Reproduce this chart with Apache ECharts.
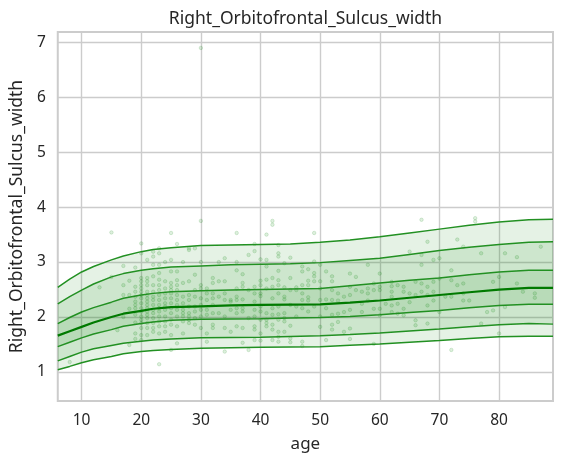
<!DOCTYPE html>
<html><head><meta charset="utf-8">
<script src="https://cdn.jsdelivr.net/npm/echarts@6/dist/echarts.min.js"></script>
<style>html,body{margin:0;padding:0;background:#fff}#c{width:562px;height:463px}</style>
</head><body><div id="c"></div>
<script>
const chartTitle = 'Right_Orbitofrontal_Sulcus_width';
const xName = 'age';
const yName = 'Right_Orbitofrontal_Sulcus_width';
const curveAges = [6,8,10,12,15,17,20,22,25,30,35,40,45,50,55,60,65,70,75,80,85,89.05];
const p7 = [2.54,2.69,2.82,2.92,3.04,3.11,3.19,3.23,3.26,3.30,3.31,3.32,3.33,3.36,3.40,3.46,3.53,3.60,3.67,3.73,3.77,3.78];
const p6 = [2.24,2.37,2.49,2.60,2.73,2.79,2.85,2.88,2.91,2.93,2.95,2.96,2.97,2.99,3.03,3.07,3.14,3.21,3.27,3.32,3.36,3.37];
const p5 = [1.88,1.99,2.09,2.17,2.27,2.34,2.40,2.43,2.46,2.48,2.49,2.50,2.51,2.52,2.57,2.62,2.67,2.71,2.77,2.82,2.85,2.85];
const p4 = [1.66,1.74,1.82,1.90,2.00,2.06,2.11,2.15,2.18,2.195,2.21,2.22,2.225,2.23,2.26,2.30,2.35,2.40,2.45,2.50,2.53,2.53];
const p3 = [1.46,1.54,1.62,1.69,1.77,1.83,1.88,1.91,1.94,1.96,1.965,1.97,1.98,1.99,2.01,2.04,2.08,2.12,2.17,2.21,2.23,2.23];
const p2 = [1.20,1.28,1.36,1.42,1.48,1.52,1.56,1.58,1.60,1.62,1.625,1.63,1.645,1.66,1.68,1.71,1.745,1.78,1.82,1.86,1.88,1.87];
const p1 = [1.04,1.10,1.165,1.22,1.28,1.33,1.37,1.39,1.41,1.43,1.44,1.45,1.455,1.46,1.485,1.51,1.54,1.57,1.61,1.64,1.65,1.65];
const sampleGroups = [
 [8,[1.18]],[13,[2.54]],[15,[3.54,2.73]],[16,[1.76]],[17,[2.93,2.58,2.4,2.0]],
 [18,[2.66,2.4,2.15,1.49]],
 [19,[2.9,2.55,2.46,2.37,2.28,2.22,2.16,2.04,1.9,1.7,1.6]],
 [20,[3.34,3.16,2.71,2.65,2.58,2.52,2.46,2.4,2.34,2.25,2.16,2.1,2.01,1.95,1.89,1.8,1.67,1.58]],
 [21,[3.04,2.71,2.65,2.58,2.46,2.4,2.34,2.28,2.22,2.16,2.1,2.04,1.98,1.89,1.8,1.67]],
 [22,[3.19,3.1,2.95,2.74,2.58,2.46,2.37,2.31,2.22,2.13,2.07,1.98,1.89,1.8,1.73]],
 [23,[3.25,3.16,2.95,2.8,2.68,2.58,2.49,2.4,2.31,2.22,2.16,2.1,2.01,1.92,1.83,1.7,1.14]],
 [24,[3.0,2.65,2.52,2.43,2.34,2.25,2.19,2.13,2.01,1.92,1.83,1.73]],
 [25,[3.53,3.04,2.83,2.62,2.55,2.49,2.43,2.34,2.25,2.16,2.07,1.95,1.86,1.67,1.4]],
 [26,[3.33,2.83,2.67,2.58,2.49,2.4,2.31,2.22,2.13,2.01,1.83,1.52]],
 [27,[3.0,2.62,2.37,2.25,2.13,2.07,2.01,1.92,1.7]],
 [28,[3.25,3.22,2.65,2.4,2.31,2.19,2.07,2.01,1.95,1.89]],
 [29,[3.25,2.77,2.49,2.37,2.19,2.1,1.98,1.86]],
 [30,[6.9,3.75,3.0,2.58,2.52,2.34,2.22,2.13,2.01,1.8]],
 [31,[2.52,2.43,2.31,2.13,2.04,1.7,1.55]],
 [32,[2.71,2.62,2.43,2.34,2.22,2.07,1.86,1.8]],
 [33,[3.0,2.65,2.37,2.07]],
 [34,[3.07,2.65,2.43,2.31,2.01,1.8,1.37]],
 [35,[2.31,2.28,2.13,1.73]],
 [36,[3.53,3.0,2.85,2.52,2.37,2.31,2.16,2.07,1.83]],
 [37,[2.78,2.62,2.55,2.32,2.16,2.1,1.8,1.53]],
 [38,[3.13,2.49,1.98,1.4]],
 [39,[3.33,3.2,2.55,2.43,2.28,2.13,2.01,1.83,1.77,1.58]],
 [40,[3.05,2.66,2.58,2.43,2.38,2.19,2.1,1.95,1.7,1.57]],
 [41,[3.5,3.04,2.92,2.68,2.52,2.07,1.95,1.89,1.83]],
 [42,[3.75,3.68,2.71,2.55,2.34,2.16,2.04,1.86,1.77,1.58]],
 [43,[3.31,3.16,3.1,2.84,2.67,2.58,2.43,2.19,2.05,1.95,1.73,1.64,1.55]],
 [44,[2.98,2.54,2.37,2.32,2.07,1.98,1.92,1.73]],
 [45,[3.08,2.71,2.49,2.22,1.84,1.61,1.54]],
 [46,[2.54,2.49,2.19,2.01]],
 [47,[2.92,2.83,2.58,2.43,2.31,2.16,1.55,1.47]],
 [48,[2.87,2.66,2.58,2.36,2.3,2.1]],
 [49,[3.53,3.01,2.8,2.74,2.65,2.19]],
 [50,[2.95,2.65,2.52,2.31,2.01,1.82]],
 [51,[2.83,2.32,2.16,1.58]],
 [52,[2.74,2.65,2.49,2.31,2.04,1.86,1.77]],
 [53,[2.43,2.30,2.06,1.91]],
 [54,[2.37,2.09,1.73]],
 [55,[2.79,2.55,2.40,2.13,1.79,1.60]],
 [56,[2.73,2.49]],
 [57,[2.46,2.24,2.09]],
 [58,[2.95,2.52,2.43,2.30]],
 [59,[2.61,2.49,2.15,1.51]],
 [60,[2.79,2.55,2.49,2.15,2.03]],
 [61,[2.24]],
 [62,[2.64,2.56,2.46,2.37,2.21,2.09]],
 [63,[2.58,2.24,2.06]],
 [64,[2.55,2.46,2.15,2.03]],
 [65,[3.19,2.43,2.27]],
 [66,[2.64,2.40,1.94,1.85]],
 [67,[3.77,3.13,2.95,2.61,2.46]],
 [68,[3.37,2.55,2.40,2.21,1.88]],
 [69,[3.04,2.64,2.46,2.30]],
 [70,[3.07,2.70,2.09]],
 [71,[2.37]],
 [72,[2.85,2.67,2.37,1.40]],
 [73,[3.41,2.58]],
 [74,[3.28,2.61,2.43,2.30]],
 [75,[2.30]],
 [76,[3.80,3.74]],
 [77,[3.16,1.88]],
 [78,[2.09]],
 [79,[2.64,2.12]],
 [80,[2.73,1.70]],
 [81,[3.16,2.18]],
 [83,[3.09,2.61]],
 [84,[2.46]],
 [86,[2.43,2.35]],
 [87,[3.28]]
];
const xTicks = [10,20,30,40,50,60,70,80];
const yTicks = [1,2,3,4,5,6,7];

const pair = arr => curveAges.map((a,i)=>[a,arr[i]]);
const samples = [];
sampleGroups.forEach(g => g[1].forEach(v => samples.push([g[0],v])));

const band = (name,lo,hi,alpha) => ({
  type:'custom',name,silent:true,z:2,
  data:curveAges.map((a,i)=>[a,lo[i],hi[i]]),
  encode:{x:0,y:[1,2]},
  renderItem:(params,api)=>{
    if(params.dataIndex!==0) return null;
    const pts=[];
    curveAges.forEach((a,i)=>pts.push(api.coord([a,hi[i]])));
    for(let i=curveAges.length-1;i>=0;i--) pts.push(api.coord([curveAges[i],lo[i]]));
    return {type:'polygon',shape:{points:pts},style:{fill:'rgba(0,128,0,'+alpha+')'}};
  }
});
const line = (name,arr,w,c) => ({
  type:'line',name,data:pair(arr),showSymbol:false,silent:true,
  lineStyle:{width:w,color:c},z:w>1.8?6:5
});
const chart = echarts.init(document.getElementById('c'),null,{renderer:'canvas'});
const txt = '#262626', font = '"Noto Sans", sans-serif', gc = '#cccccc';
chart.setOption({
  animation:false, backgroundColor:'#fff',
  title:{text:chartTitle,left:300.5,top:5,textAlign:'center',textStyle:{color:txt,fontFamily:font,fontSize:17.5,fontWeight:'normal'}},
  grid:{left:57,right:9,top:32,bottom:62,show:true,borderColor:gc,borderWidth:2,backgroundColor:'transparent'},
  xAxis:{type:'value',min:6,max:89.05,name:xName,nameLocation:'middle',nameGap:35,
    nameTextStyle:{color:txt,fontFamily:font,fontSize:17},
    axisLine:{show:false},axisTick:{show:false,customValues:xTicks},
    axisLabel:{color:txt,fontFamily:font,fontSize:15.5,margin:12,customValues:xTicks},
    splitLine:{show:true,lineStyle:{color:gc,width:1.4}}},
  yAxis:{type:'value',min:0.47,max:7.19,name:yName,nameLocation:'middle',nameGap:24,
    nameTextStyle:{color:txt,fontFamily:font,fontSize:17.5},
    axisLine:{show:false},axisTick:{show:false,customValues:yTicks},
    axisLabel:{color:txt,fontFamily:font,fontSize:15.5,margin:12,customValues:yTicks},
    splitLine:{show:true,lineStyle:{color:gc,width:1.4}}},
  series:[
    band('outer',p1,p7,0.10),
    band('middle',p2,p6,0.10),
    band('inner',p3,p5,0.10),
    {type:'scatter',name:'samples',data:samples,symbol:'circle',symbolSize:3.5,silent:true,z:3,
      itemStyle:{color:'rgba(0,128,0,0.16)',borderColor:'rgba(0,128,0,0.18)',borderWidth:1}},
    line('p1',p1,1.5,'#229022'),line('p2',p2,1.5,'#229022'),line('p3',p3,1.5,'#229022'),
    line('p4',p4,2.2,'#007a00'),
    line('p5',p5,1.5,'#229022'),line('p6',p6,1.5,'#229022'),line('p7',p7,1.5,'#229022')
  ]
});
</script></body></html>
